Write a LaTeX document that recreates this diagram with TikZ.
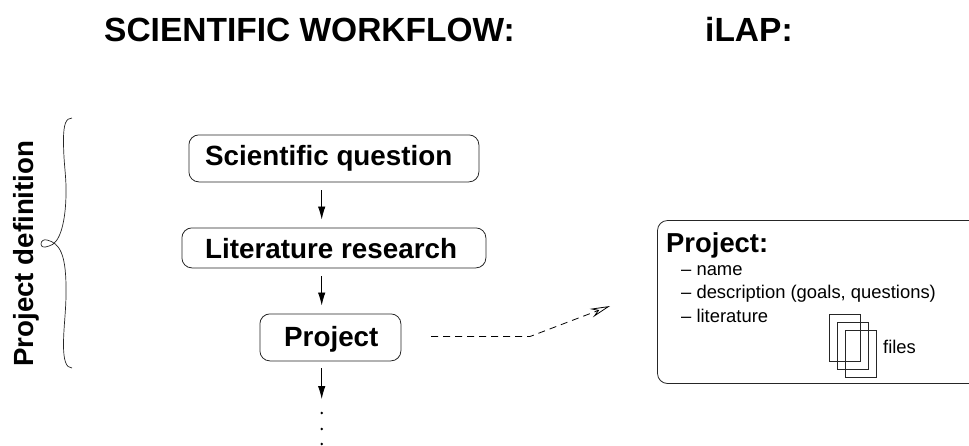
\documentclass[tikz,border=0pt]{standalone}
\usepackage{fontspec}
\setmainfont{Liberation Sans}
\usetikzlibrary{arrows.meta,calc}
\tikzset{
  x=1pt,y=-1pt,
  ln/.style={line width=0.8pt,black!85},
  stage/.style={draw,ln,rounded corners=10pt,inner sep=0pt,anchor=north west},
  flow/.style={ln,black,-{Latex[length=13pt,width=7.5pt]}},
  lab/.style={inner sep=0pt,anchor=base west},
  ttl/.style={lab,font=\fontsize{33.5}{34}\selectfont\bfseries},
  stagetxt/.style={lab,font=\fontsize{27.8}{28}\selectfont\bfseries},
  small/.style={lab,font=\fontsize{18.4}{19}\selectfont},
  sheet/.style={draw,line width=0.7pt,black!85,inner sep=0pt,anchor=north west,minimum width=31.5pt,minimum height=47pt},
  dot/.style={circle,fill=black,inner sep=0pt,minimum size=2.8pt}
}
\begin{document}
\begin{tikzpicture}
\useasboundingbox (0,0) rectangle (969,445);
\node[ttl] (t1) at (104,41) {SCIENTIFIC WORKFLOW:};
\node[ttl] (t2) at (705,41) {iLAP:};
\node[lab,rotate=90,font=\fontsize{27.7}{28}\selectfont\bfseries] (pd) at (33.5,367) {Project definition};
% brace
\draw[ln,line width=0.7pt] (72,118) .. controls (66,118) and (63.5,124) .. (63.5,140)
  .. controls (63.5,165) and (66.5,175) .. (66,195)
  .. controls (65.5,222) and (60,244) .. (49,246)
  .. controls (44,248) and (41,247) .. (41,244)
  .. controls (41,241) and (44,239) .. (47,240)
  .. controls (60,243) and (65.5,255) .. (66,285)
  .. controls (66.5,310) and (63.5,325) .. (63.5,345)
  .. controls (63.5,360) and (66,368) .. (72,368);
% stages
\node[stage,minimum width=290pt,minimum height=47pt] (sci) at (188.5,134.5) {};
\node[stage,minimum width=304pt,minimum height=40pt] (lit) at (181.5,227.5) {};
\node[stage,minimum width=141pt,minimum height=47pt] (prj) at (259.5,313.5) {};
\node[stagetxt] (scit) at (205,165.5) {Scientific question};
\node[stagetxt] (litt) at (205,258.5) {Literature research};
\node[stagetxt] (prjt) at (284,346.5) {Project};
\coordinate (end) at (321.7,399);
\draw[flow,shorten <=8pt,shorten >=8pt] (sci.south -| end) -- (lit.north -| end);
\draw[flow,shorten <=8pt,shorten >=8pt] (lit.south -| end) -- (prj.north -| end);
\draw[flow,shorten <=7pt] (prj.south -| end) -- (end);
\node[dot] (d1) at (321.7,413) {};
\node[dot] (d2) at (321.7,429) {};
\node[dot] (d3) at (321.7,444) {};
% iLAP box
\coordinate (boxtr) at (969,220.5);
\coordinate (boxbr) at (969,383.5);
\draw[ln,rounded corners=10pt] (boxtr) -- (657.5,220.5) -- (657.5,383.5) -- (boxbr);
\node[lab,font=\fontsize{27.4}{28}\selectfont\bfseries] (pt) at (666,252) {Project:};
\node[small] (n1) at (681,275.5) {– name};
\node[small] (n2) at (681,298.5) {– description (goals, questions)};
\node[small] (n3) at (681,322) {– literature};
\node[sheet] (s1) at (828.5,313.5) {};
\node[sheet] (s2) at (836.5,321.5) {};
\node[sheet] (s3) at (844.5,329.5) {};
\node[small] (fl) at (883,353.5) {files};
% dashed link
\coordinate (da) at (431,336.5);
\coordinate (db) at (530,336.5);
\coordinate (dc) at (610,306);
\draw[line width=0.8pt,black,dash pattern=on 7pt off 5pt,-{Stealth[open,length=20pt,width=9pt,inset=7pt]}] (da) -- (db) -- (dc);
\end{tikzpicture}
\end{document}
